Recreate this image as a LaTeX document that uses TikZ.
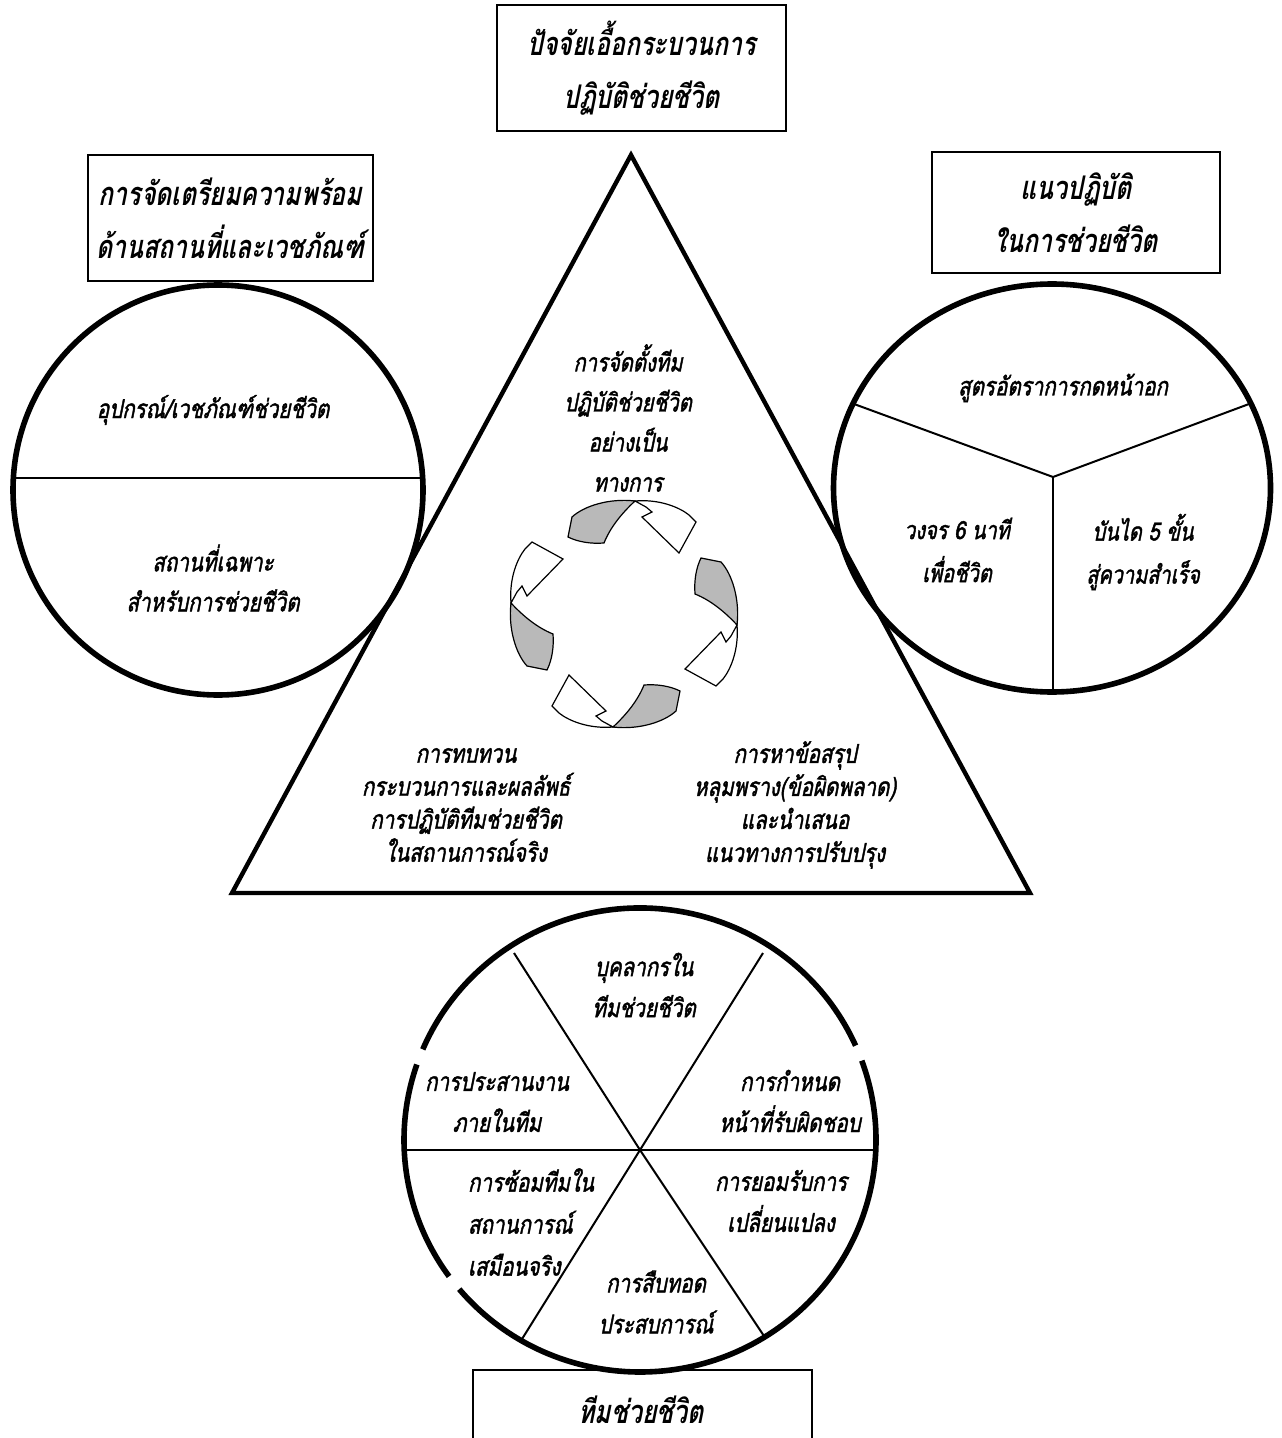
\documentclass[tikz,border=0pt]{standalone}
\usepackage{fontspec}
\newfontfamily\thaititle[Script=Thai,FakeSlant=0.2,FakeStretch=0.76]{Loma}
\newfontfamily\thailbl[Script=Thai,FakeSlant=0.2,FakeStretch=0.79,FakeBold=1.6]{Loma}
\usetikzlibrary{shapes.geometric}
\begin{document}
\begin{tikzpicture}[x=0.5pt,y={(0pt,-0.5pt)},
  every node/.style={inner sep=0pt, outer sep=0pt},
  titlefont/.style={font=\thaititle\bfseries\fontsize{16.3}{26.5}\selectfont},
  titlebox/.style={draw, line width=1pt, align=center, titlefont},
  lbl/.style={align=center, font=\thailbl\fontsize{13}{20}\selectfont},
  ring/.style={draw, line width=2.8pt},
  divider/.style={line width=1pt},
  tri/.style={line width=2.2pt, line join=miter},
  tailpart/.style={draw, line width=0.6pt, fill=gray!55},
  headpart/.style={draw, line width=0.6pt, fill=white, line join=miter}
]
\useasboundingbox (0,0) rectangle (1281,1438);

% ---------- title boxes ----------
\node[titlebox, minimum width=144.5pt, minimum height=63pt] (topbox) at (641.5,68)
  {ปัจจัยเอื้อกระบวนการ\\ปฏิบัติช่วยชีวิต};
\node[titlebox, minimum width=142.5pt, minimum height=63pt] (leftbox) at (230.5,218)
  {การจัดเตรียมความพร้อม\\ด้านสถานที่และเวชภัณฑ์};
\node[titlebox, minimum width=144pt, minimum height=60.5pt] (rightbox) at (1076,212.5)
  {แนวปฏิบัติ\\ในการช่วยชีวิต};

% ---------- triangle ----------
\coordinate (apex) at (631,155);
\coordinate (bl) at (232,893);
\coordinate (br) at (1030,893);
\draw[tri] (apex) -- (bl) -- (br) -- cycle;

% ---------- left circle ----------
\node[circle, ring, minimum size=205pt] (lcirc) at (218,490) {};
\draw[divider] (13.5,478) -- (422.5,478);
\node[lbl] (lc1) at (213,410) {อุปกรณ์/เวชภัณฑ์ช่วยชีวิต};
\node[lbl] (lc2) at (213,578) {สถานที่เฉพาะ\\สำหรับการช่วยชีวิต};

% ---------- right circle ----------
\node[ellipse, ring, minimum width=218.5pt, minimum height=204pt] (rcirc) at (1052,488) {};
\coordinate (rc) at (1053,477);
\draw[divider] (rc) -- (854,404);
\draw[divider] (rc) -- (1249,404);
\draw[divider] (rc) -- (1053,692);
\node[lbl] (rc1) at (1063,388) {สูตรอัตราการกดหน้าอก};
\node[lbl, font=\thailbl\fontsize{12.6}{21.5}\selectfont] (rc2) at (957,550) {วงจร 6 นาที\\เพื่อชีวิต};
\node[lbl, font=\thailbl\fontsize{12.6}{21.5}\selectfont] (rc3) at (1143,552) {บันได 5 ขั้น\\สู่ความสำเร็จ};

% ---------- triangle texts ----------
\node[lbl, font=\thailbl\fontsize{12.8}{20}\selectfont] (t1) at (628,418)
  {การจัดตั้งทีม\\ปฏิบัติช่วยชีวิต\\อย่างเป็น\\ทางการ};
\node[lbl, font=\thailbl\fontsize{13}{16.5}\selectfont] (t2) at (466,805)
  {การทบทวน\\กระบวนการและผลลัพธ์\\การปฏิบัติทีมช่วยชีวิต\\ในสถานการณ์จริง};
\node[lbl, font=\thailbl\fontsize{13}{16.5}\selectfont] (t3) at (795,805)
  {การหาข้อสรุป\\หลุมพราง(ข้อผิดพลาด)\\และนำเสนอ\\แนวทางการปรับปรุง};

% ---------- cycle arrows ----------
\foreach \k in {0,1,2,3}{
  \begin{scope}[shift={(624,614)}, rotate=-90*\k]
    \fill[tailpart] (-56,-77) -- (-52,-97)
      .. controls (-40,-108) and (-15,-116) .. (11,-113)
      .. controls (-3,-100) and (-14,-86) .. (-20,-71)
      .. controls (-33,-70) and (-46,-72) .. cycle;
    \fill[headpart] (11,-113)
      .. controls (35,-115) and (55,-107) .. (65,-99)
      -- (72,-92) -- (55,-61) -- (18,-97) -- (28,-102) -- (22,-107) -- cycle;
  \end{scope}
}

% ---------- bottom circle (outline with small gaps) ----------
\coordinate (bcen) at (640,1140);
\draw[line width=2.8pt] (bcen) ++(-24:236 and 232) arc[start angle=-24, end angle=-157, x radius=236, y radius=232];
\draw[line width=2.8pt] (bcen) ++(-161:236 and 232) arc[start angle=-161, end angle=-216, x radius=236, y radius=232];
\draw[line width=2.8pt] (bcen) ++(-220:236 and 232) arc[start angle=-220, end angle=-380, x radius=236, y radius=232];
\coordinate (bx) at (640,1150);
\draw[divider] (404.3,1150) -- (875.7,1150);
\draw[divider] (bx) -- (514,953);
\draw[divider] (bx) -- (763,953);
\draw[divider] (bx) -- (522,1339);
\draw[divider] (bx) -- (766,1339);

\node[lbl, font=\thailbl\fontsize{13}{20.5}\selectfont] (b1) at (644,985) {บุคลากรใน\\ทีมช่วยชีวิต};
\node[lbl, font=\thailbl\fontsize{13}{20.5}\selectfont] (b2) at (497,1102) {การประสานงาน\\ภายในทีม};
\node[lbl, font=\thailbl\fontsize{13}{20.5}\selectfont] (b3) at (790,1101) {การกำหนด\\หน้าที่รับผิดชอบ};
\node[lbl, align=left, anchor=west, font=\thailbl\fontsize{13}{21}\selectfont] (b4) at (468,1222) {การซ้อมทีมใน\\สถานการณ์\\เสมือนจริง};
\node[lbl, font=\thailbl\fontsize{13}{20.5}\selectfont] (b5) at (781,1201) {การยอมรับการ\\เปลี่ยนแปลง};
\node[lbl, font=\thailbl\fontsize{13}{20.5}\selectfont] (b6) at (656,1302) {การสืบทอด\\ประสบการณ์};

% ---------- bottom box (runs off the page) ----------
\draw[line width=1pt] (473,1438) -- (473,1370) -- (812,1370) -- (812,1438);
\node[titlefont] (teambox) at (641,1410) {ทีมช่วยชีวิต};

\end{tikzpicture}
\end{document}
